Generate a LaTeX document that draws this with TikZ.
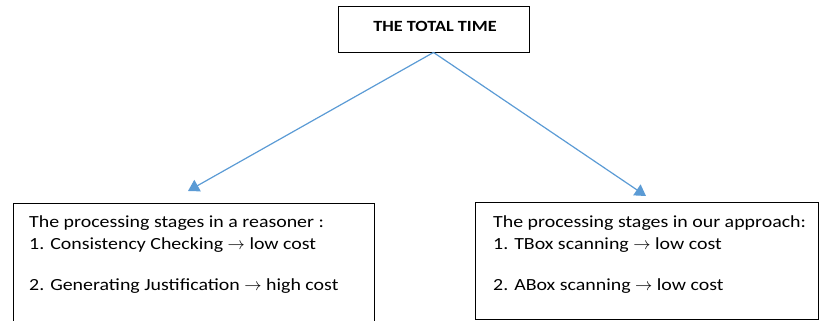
\documentclass[tikz,border=0pt]{standalone}
\usepackage{fontspec}
\setmainfont{Carlito}[FakeStretch=1.17]
\usetikzlibrary{arrows.meta}
\definecolor{bleu}{RGB}{91,155,213}
\begin{document}
\begin{tikzpicture}[x=1pt, y=-1pt,
  boite/.style={draw, line width=0.9pt, inner sep=0pt},
  texte/.style={anchor=base west, align=left, inner sep=0pt, font=\fontsize{17}{21.7}\selectfont},
  fleche/.style={draw=bleu, line width=1.2pt, -{Triangle[width=13pt,length=11pt]}}]
\useasboundingbox (0,0) rectangle (822,321);
% Boites
\node[boite, minimum width=191pt, minimum height=46pt] (total) at (433.5,29) {};
\node[font=\fontsize{15.6}{18}\selectfont\bfseries, inner sep=0pt, anchor=base] (titre) at (435,32) {THE TOTAL TIME};
\node[boite, minimum width=361pt, minimum height=122pt, anchor=north west] (raisonneur) at (12.5,202.5) {};
\node[boite, minimum width=343pt, minimum height=117pt, anchor=north west] (approche) at (475,202) {};
\node[texte] (t1) at (29,290) {The processing stages in a reasoner :\\
1. Consistency Checking $\rightarrow$ low cost\\[19pt]
2. Generating Justification $\rightarrow$ high cost};
\node[texte] (t2) at (493,290) {The processing stages in our approach:\\
1. TBox scanning $\rightarrow$ low cost\\[19pt]
2. ABox scanning $\rightarrow$ low cost};
% Fleches
\coordinate (g) at (188,191);
\coordinate (d) at (646,196);
\draw[fleche] (total.south) -- (g);
\draw[fleche] (total.south) -- (d);
\end{tikzpicture}
\end{document}
